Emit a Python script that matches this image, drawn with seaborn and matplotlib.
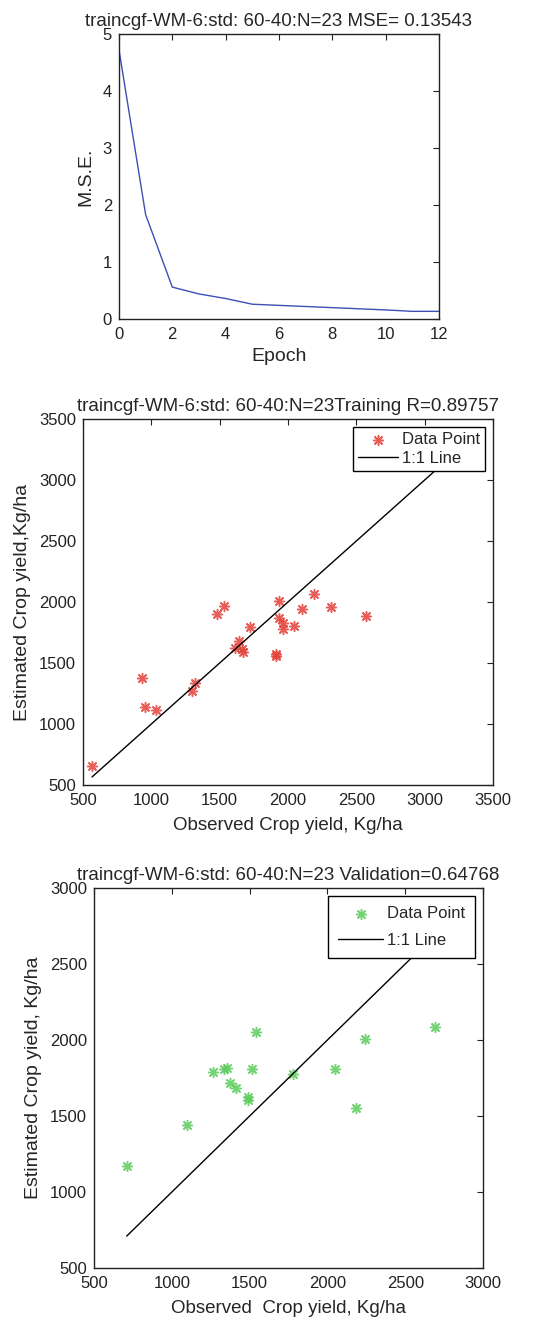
import matplotlib
matplotlib.use("Agg")
import matplotlib.pyplot as plt
import seaborn as sns
import pandas as pd

sns.set_theme(style="white")
plt.rcParams['font.family'] = ['Liberation Sans', 'DejaVu Sans']

RED = '#e3413a'
GREEN = '#5ccc5c'
BLUE = '#3d4fb5'
ASTERISK = (8, 2, 0)

# training curve
epochs = [0, 1, 2, 3, 4, 5, 6, 7, 8, 9, 10, 11, 12]
mse = [4.72, 1.83, 0.56, 0.44, 0.36, 0.26, 0.24, 0.22, 0.20, 0.18, 0.16, 0.135, 0.135]

# training scatter
train_obs = [566, 932, 957, 1035, 1299, 1318, 1480, 1533, 1614, 1645, 1660, 1673,
             1721, 1912, 1912, 1931, 1931, 1961, 1966, 2042, 2105, 2188, 2313, 2569]
train_est = [659, 1378, 1137, 1118, 1271, 1334, 1900, 1971, 1621, 1684, 1613, 1594,
             1793, 1575, 1558, 2009, 1867, 1826, 1777, 1804, 1944, 2067, 1960, 1889]
train_line = [566, 3300]

# validation scatter
val_obs = [710, 1097, 1268, 1335, 1354, 1371, 1412, 1491, 1491, 1515, 1542,
           1776, 2052, 2187, 2242, 2694]
val_est = [1169, 1443, 1789, 1808, 1819, 1716, 1682, 1623, 1607, 1811, 2054,
           1774, 1811, 1553, 2007, 2083]
val_line = [710, 2800]

fig = plt.figure(figsize=(5.35, 13.31), dpi=100)


def style_axes(ax):
    ax.tick_params(direction='in', top=True, right=True, length=4, width=0.8,
                   labelsize=12, colors='#222222')
    ax.tick_params(axis='x', pad=6)
    ax.tick_params(axis='y', pad=5)
    for s in ax.spines.values():
        s.set_color('#222222')
        s.set_linewidth(1.0)
    ax.grid(False)


# MSE plot
ax1 = fig.add_axes([0.2224, 0.7603, 0.598, 0.2142])
sns.lineplot(x=epochs, y=mse, ax=ax1, color=BLUE, linewidth=1.0)
ax1.set_xlim(0, 12)
ax1.set_ylim(0, 5)
ax1.set_xticks(range(0, 13, 2))
ax1.set_yticks(range(0, 6))
ax1.set_xlabel('Epoch', fontsize=14, labelpad=4)
ax1.set_ylabel('M.S.E.', fontsize=14, labelpad=6)
ax1.set_title('traincgf-WM-6:std: 60-40:N=23 MSE= 0.13543', fontsize=13.5, pad=6)
style_axes(ax1)


def scatter_panel(rect, obs, est, line, color, lim, title, xlabel, ylabel):
    ax = fig.add_axes(rect)
    df = pd.DataFrame({'obs': obs, 'est': est})
    sns.scatterplot(data=df, x='obs', y='est', ax=ax, marker=ASTERISK, s=50,
                    color=color, linewidth=1.1, alpha=0.85, label='Data Point')
    sns.lineplot(x=line, y=line, ax=ax, color='black', linewidth=1.0, label='1:1 Line')
    ax.set_xlim(*lim)
    ax.set_ylim(*lim)
    ticks = list(range(lim[0], lim[1] + 1, 500))
    ax.set_xticks(ticks)
    ax.set_yticks(ticks)
    ax.set_title(title, fontsize=13.5, pad=6)
    ax.set_xlabel(xlabel, fontsize=13.5, labelpad=6)
    ax.set_ylabel(ylabel, fontsize=14, labelpad=6)
    style_axes(ax)
    return ax


ax2 = scatter_panel([0.1551, 0.4102, 0.7664, 0.275], train_obs, train_est, train_line,
                    RED, (500, 3500),
                    'traincgf-WM-6:std: 60-40:N=23Training R=0.89757',
                    'Observed Crop yield, Kg/ha', 'Estimated Crop yield,Kg/ha')
leg = ax2.legend(loc='upper right', fontsize=12, frameon=True, fancybox=False,
                 framealpha=1, edgecolor='black', borderpad=0.3, labelspacing=0.2,
                 handlelength=2.4, handletextpad=0.2, borderaxespad=0.5)
leg.get_frame().set_linewidth(1.0)

ax3 = scatter_panel([0.1757, 0.0473, 0.7271, 0.2855], val_obs, val_est, val_line,
                    GREEN, (500, 3000),
                    'traincgf-WM-6:std: 60-40:N=23 Validation=0.64768',
                    'Observed  Crop yield, Kg/ha', 'Estimated Crop yield, Kg/ha')
leg = ax3.legend(loc='upper right', fontsize=12, frameon=True, fancybox=False,
                 framealpha=1, edgecolor='black', borderpad=0.6, labelspacing=0.7,
                 handlelength=2.7, handletextpad=0.2, borderaxespad=0.5)
leg.get_frame().set_linewidth(1.0)

fig.savefig('out.png', dpi=100)
